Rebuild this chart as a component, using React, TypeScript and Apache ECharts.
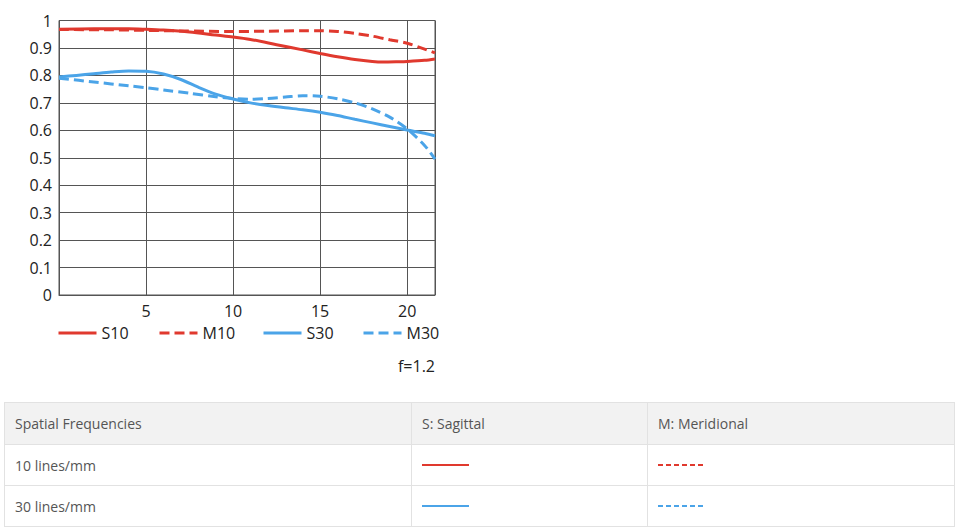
import React, { useEffect, useRef } from "react";
import * as echarts from "echarts";

// Image height (mm) vs contrast
const s10: [number, number][] = [
  [0, 0.968], [2, 0.97], [4, 0.97], [5, 0.968], [6, 0.965], [7.5, 0.958], [9, 0.947], [10, 0.94],
  [11, 0.931], [12.5, 0.912], [14, 0.893], [15, 0.88], [16, 0.868], [17, 0.858], [18, 0.851],
  [18.6, 0.849], [19.5, 0.85], [20, 0.851], [21, 0.855], [21.6, 0.86],
];
const m10: [number, number][] = [
  [0, 0.967], [3, 0.966], [5, 0.964], [7, 0.962], [10, 0.96], [12, 0.961], [14, 0.963], [15, 0.963],
  [16, 0.96], [17, 0.953], [18, 0.943], [19, 0.93], [20, 0.917], [21, 0.896], [21.6, 0.882],
];
const s30: [number, number][] = [
  [0, 0.794], [1, 0.8], [2, 0.806], [3, 0.812], [4, 0.816], [5, 0.815], [6, 0.805], [7, 0.785],
  [8, 0.757], [9, 0.732], [10, 0.714], [11, 0.7], [12, 0.69], [13, 0.682], [14, 0.675], [15, 0.666],
  [16, 0.654], [17, 0.64], [18, 0.627], [19, 0.614], [20, 0.601], [21, 0.589], [21.6, 0.58],
];
const m30: [number, number][] = [
  [0, 0.79], [2, 0.776], [4, 0.762], [5, 0.755], [6, 0.747], [7.5, 0.735], [9, 0.722], [10, 0.716],
  [11, 0.713], [12, 0.716], [13, 0.721], [14, 0.726], [15, 0.724], [16, 0.715], [17, 0.7],
  [18, 0.678], [19, 0.648], [20, 0.605], [21, 0.545], [21.6, 0.495],
];

const seriesNames = ["S10", "M10", "S30", "M30"];
const legendLefts = [57, 158, 262, 362];
const apertureLabel = "f=1.2";

const tableHeaders = ["Spatial Frequencies", "S: Sagittal", "M: Meridional"];
const tableRows = ["10 lines/mm", "30 lines/mm"];

const RED = "#e0392e";
const BLUE = "#4ba4e8";
const FONT = "'Open Sans', 'Noto Sans', sans-serif";

function Sample({ color, dashed }: { color: string; dashed: boolean }) {
  return (
    <svg width={48} height={6} style={{ display: "block" }}>
      <line
        x1={0}
        y1={3}
        x2={47}
        y2={3}
        stroke={color}
        strokeWidth={2}
        strokeDasharray={dashed ? "5,3" : undefined}
      />
    </svg>
  );
}

export default function App() {
  const ref = useRef<HTMLDivElement>(null);

  useEffect(() => {
    document.body.style.margin = "0";
    if (!ref.current) return;
    const chart = echarts.init(ref.current, undefined, { renderer: "svg" });
    const lineCommon = (name: string, data: [number, number][], color: string, dashed: boolean) => ({
      name,
      type: "line",
      data,
      smooth: 0.3,
      symbol: "none",
      lineStyle: { color, width: 3, type: dashed ? [10, 5] : "solid" },
      itemStyle: { color },
    });
    chart.setOption({
      animation: false,
      textStyle: { fontFamily: FONT },
      grid: {
        left: 59,
        right: 525,
        top: 20.5,
        bottom: 100,
        show: true,
        borderColor: "#555",
        borderWidth: 1,
        backgroundColor: "transparent",
      },
      xAxis: {
        type: "value",
        min: 0,
        max: 21.6,
        interval: 5,
        axisLine: { show: true, lineStyle: { color: "#555", width: 1 } },
        axisTick: { show: false },
        splitLine: { show: true, lineStyle: { color: "#555", width: 1 } },
        axisLabel: {
          margin: 8,
          fontSize: 16,
          color: "#222",
          fontFamily: FONT,
          formatter: (v: number) => (v !== 0 && v % 5 === 0 ? String(v) : ""),
        },
      },
      yAxis: {
        type: "value",
        min: 0,
        max: 1,
        interval: 0.1,
        axisLine: { show: true, lineStyle: { color: "#555", width: 1 } },
        axisTick: { show: false },
        splitLine: { show: true, lineStyle: { color: "#555", width: 1 } },
        axisLabel: {
          margin: 7,
          fontSize: 16,
          color: "#222",
          fontFamily: FONT,
          formatter: (v: number) => String(Math.round(v * 10) / 10),
        },
      },
      legend: seriesNames.map((n, i) => ({
        data: [n],
        left: legendLefts[i],
        top: 325,
        padding: 0,
        itemWidth: 38,
        itemHeight: 18,
        itemGap: 0,
        lineStyle: { width: 3 },
        itemStyle: { opacity: 0 },
        textStyle: { fontSize: 16, color: "#222", fontFamily: FONT },
        selectedMode: false,
      })),
      graphic: [
        {
          type: "text",
          right: 525,
          top: 358,
          style: { text: apertureLabel, fontSize: 16, fill: "#222", fontFamily: FONT },
        },
      ],
      series: [
        lineCommon("S10", s10, RED, false),
        lineCommon("M10", m10, RED, true),
        lineCommon("S30", s30, BLUE, false),
        lineCommon("M30", m30, BLUE, true),
      ],
    });
    return () => chart.dispose();
  }, []);

  const border = "1px solid #e2e2e2";
  const colW = [407, 236, 307];
  const cell: React.CSSProperties = {
    border,
    padding: "0 0 0 10px",
    textAlign: "left",
    verticalAlign: "middle",
    fontFamily: FONT,
    fontSize: 14,
    color: "#555",
    fontWeight: 400,
  };

  return (
    <div style={{ position: "relative", width: 960, height: 531, background: "#fff" }}>
      <div ref={ref} style={{ position: "absolute", left: 0, top: 0, width: 960, height: 395 }} />
      <table
        style={{
          position: "absolute",
          left: 4,
          top: 402,
          width: 951,
          borderCollapse: "collapse",
          tableLayout: "fixed",
        }}
      >
        <colgroup>
          {colW.map((w, i) => (
            <col key={i} style={{ width: w }} />
          ))}
        </colgroup>
        <thead>
          <tr style={{ height: 42, background: "#f2f2f2" }}>
            {tableHeaders.map((h) => (
              <th key={h} style={cell}>
                {h}
              </th>
            ))}
          </tr>
        </thead>
        <tbody>
          {tableRows.map((r, i) => {
            const color = i === 0 ? RED : BLUE;
            return (
              <tr key={r} style={{ height: 41 }}>
                <td style={cell}>{r}</td>
                <td style={cell}>
                  <Sample color={color} dashed={false} />
                </td>
                <td style={cell}>
                  <Sample color={color} dashed={true} />
                </td>
              </tr>
            );
          })}
        </tbody>
      </table>
    </div>
  );
}
